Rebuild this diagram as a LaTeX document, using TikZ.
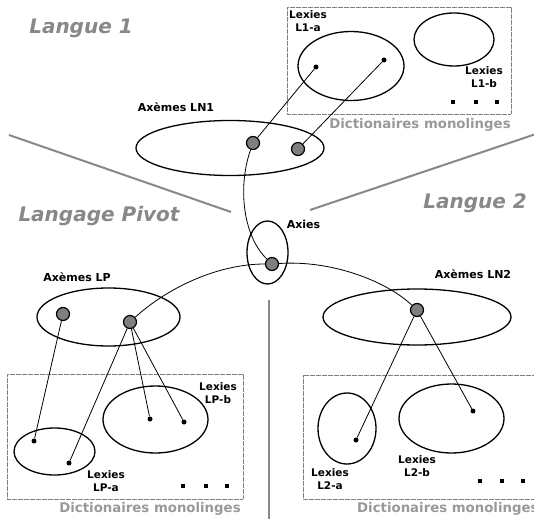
\documentclass[tikz,border=0pt]{standalone}
\usepackage{fontspec}
\setmainfont{DejaVu Sans}
\usetikzlibrary{shapes.geometric}
\definecolor{sepgray}{HTML}{888888}
\definecolor{dotgray}{HTML}{7F7F7F}
\definecolor{dictgray}{HTML}{999999}
\tikzset{
  ell/.style={draw=black, line width=1.3pt, ellipse, inner sep=0pt},
  bigdot/.style={draw=black, line width=1.2pt, fill=dotgray, circle, minimum size=13pt, inner sep=0pt},
  smalldot/.style={fill=black, circle, minimum size=5pt, inner sep=0pt},
  sq/.style={fill=black, minimum size=4.6pt, inner sep=0pt},
  conn/.style={draw=black, line width=0.8pt},
  lab/.style={font=\fontsize{10.5}{13}\selectfont\bfseries, align=center, inner sep=0pt},
  axlab/.style={font=\fontsize{11}{13}\selectfont\bfseries, inner sep=0pt},
  lang/.style={font=\fontsize{20}{24}\selectfont\bfseries\itshape, text=sepgray, inner sep=0pt},
  dict/.style={font=\fontsize{13.3}{16}\selectfont\bfseries, text=dictgray, inner sep=0pt},
  dictbox/.style={draw=gray, line width=0.6pt, dash pattern=on 0.6pt off 0.6pt},
  sepline/.style={draw=sepgray, line width=2pt}
}
\begin{document}
\begin{tikzpicture}[x=1pt,y=-1pt]
\useasboundingbox (0,0) rectangle (534,518);
\clip (0,0) rectangle (534,518);
\fill[white] (0,0) rectangle (534,518);

% separators
\draw[sepline] (9,135) -- (231,212);
\draw[sepline] (310,210) -- (536,134);
\draw[sepline] (269,300) -- (269,520);

% region titles
\node[lang] (t1) at (81,28) {Langue 1};
\node[lang] (t2) at (99,216) {Langage Pivot};
\node[lang] (t3) at (475,203) {Langue 2};

% boxes
\draw[dictbox] (287,7) rectangle (511,114);
\draw[dictbox] (7,374) rectangle (243,499);
\draw[dictbox] (303,375) rectangle (545,499);

\node[dict] (d1) at (420,125) {Dictionaires monolinges};
\node[dict] (d2) at (150,509) {Dictionaires monolinges};
\node[dict, anchor=west] (d3) at (357,509) {Dictionaires monolinges};

% Langue 1 lexies
\node[ell, minimum width=106pt, minimum height=69pt] (l1a) at (351,66) {};
\node[ell, minimum width=80pt, minimum height=53pt] (l1b) at (454,39.5) {};
\node[lab] (l1al) at (308,21) {Lexies\\L1-a};
\node[lab] (l1bl) at (484,77) {Lexies\\L1-b};
\node[sq] (s11) at (453,102) {};
\node[sq] (s12) at (476,102) {};
\node[sq] (s13) at (497,102) {};
\node[smalldot] (p1) at (316,67) {};
\node[smalldot] (p2) at (384,60) {};

% Axemes LN1
\node[ell, minimum width=188pt, minimum height=55pt] (ln1) at (230,148) {};
\node[axlab] (ln1l) at (176,107) {Axèmes LN1};
\node[bigdot] (g1) at (253,143) {};
\node[bigdot] (g2) at (298,149) {};
\draw[conn] (p1) -- (g1);
\draw[conn] (p2) -- (g2);

% Axies
\node[ell, minimum width=41pt, minimum height=63pt] (axe) at (267.5,252.5) {};
\node[axlab] (axl) at (303.5,224) {Axies};
\node[bigdot] (ga) at (272,264) {};
\draw[conn] (g1) .. controls (238,185) and (242,235) .. (ga);

% Axemes LP
\node[ell, minimum width=143pt, minimum height=58pt] (lp) at (108.5,317) {};
\node[axlab] (lpl) at (77,277) {Axèmes LP};
\node[bigdot] (gp1) at (63,314) {};
\node[bigdot] (gp2) at (130,322) {};
\draw[conn] (ga) .. controls (215,264) and (165,290) .. (gp2);

% Axemes LN2
\node[ell, minimum width=188pt, minimum height=56pt] (ln2) at (417,317) {};
\node[axlab] (ln2l) at (473,274) {Axèmes LN2};
\node[bigdot] (gn) at (417,310) {};
\draw[conn] (ga) .. controls (330,260) and (385,280) .. (gn);

% Pivot lexies
\node[ell, minimum width=81pt, minimum height=47pt] (lpa) at (54.5,451.5) {};
\node[ell, minimum width=105pt, minimum height=67pt] (lpb) at (155.5,419.5) {};
\node[lab] (lpal) at (106,481.5) {Lexies\\LP-a};
\node[lab] (lpbl) at (218,393) {Lexies\\LP-b};
\node[sq] (s21) at (183,486) {};
\node[sq] (s22) at (206,486) {};
\node[sq] (s23) at (227,486) {};
\node[smalldot] (q1) at (34,441) {};
\node[smalldot] (q2) at (69,463) {};
\node[smalldot] (q3) at (150,419) {};
\node[smalldot] (q4) at (184,422) {};
\draw[conn] (gp1) -- (q1);
\draw[conn] (gp2) -- (q2);
\draw[conn] (gp2) -- (q3);
\draw[conn] (gp2) -- (q4);

% Langue 2 lexies
\node[ell, minimum width=58pt, minimum height=71pt] (l2a) at (347,428.5) {};
\node[ell, minimum width=105pt, minimum height=69pt] (l2b) at (451.5,418.5) {};
\node[lab] (l2al) at (330,479) {Lexies\\L2-a};
\node[lab] (l2bl) at (417,466) {Lexies\\L2-b};
\node[sq] (s31) at (480,481) {};
\node[sq] (s32) at (502,481) {};
\node[sq] (s33) at (523,481) {};
\node[smalldot] (r1) at (356,440) {};
\node[smalldot] (r2) at (473,411) {};
\draw[conn] (gn) -- (r1);
\draw[conn] (gn) -- (r2);
\end{tikzpicture}
\end{document}
